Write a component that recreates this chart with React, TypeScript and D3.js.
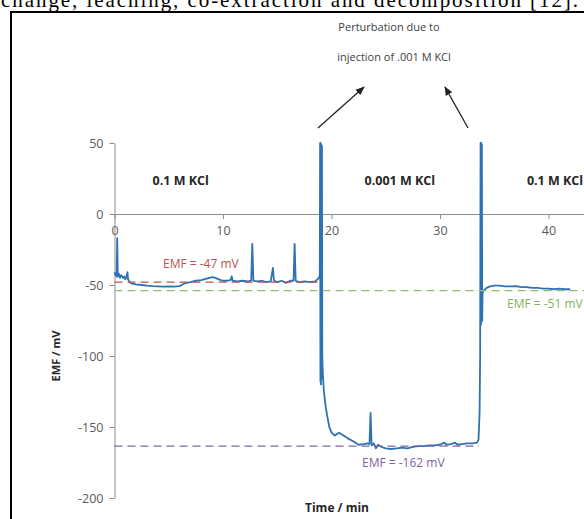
import React, { useEffect, useRef } from "react";
import { select, scaleLinear, line, axisLeft, axisBottom } from "d3";

// time (min) and EMF (mV)
const times = [
  0.0, 0.1, 0.2, 0.25, 0.3, 0.4, 0.5, 0.6, 0.7, 0.8, 0.9, 1.0, 1.1, 1.2, 1.25, 1.4, 1.6, 2.0, 2.5, 3.0,
  3.5, 4.0, 4.5, 5.0, 5.5, 6.0, 6.3, 6.6, 7.0, 7.5, 8.0, 8.5, 9.0, 9.3, 9.6, 10.0, 10.4, 10.7, 10.8, 10.9,
  11.3, 11.8, 12.3, 12.6, 12.7, 12.8, 13.2, 13.6, 14.0, 14.4, 14.6, 14.7, 15.0, 15.4, 15.8, 16.2, 16.5, 16.6, 16.7, 17.0,
  17.5, 18.0, 18.5, 18.85, 18.92, 18.95, 18.98, 19.0, 19.03, 19.06, 19.09, 19.12, 19.15, 19.2, 19.3, 19.45, 19.6, 19.8, 20.0, 20.3, 20.5,
  20.7, 21.0, 21.5, 22.0, 22.5, 23.0, 23.3, 23.5, 23.6, 23.7, 23.9, 24.1, 24.3, 24.6, 25.0, 25.5, 26.0, 26.5, 27.0, 27.5,
  28.0, 28.5, 29.0, 29.5, 30.0, 30.4, 30.6, 31.0, 31.4, 31.6, 32.0, 32.5, 33.0, 33.4, 33.55, 33.65, 33.7, 33.74, 33.77, 33.8,
  33.83, 33.86, 33.89, 33.92, 34.0, 34.3, 34.6, 35.0, 35.5, 36.0, 36.5, 37.0, 37.5, 38.0, 38.5, 39.0, 39.5, 40.0, 40.5, 41.0, 41.5, 42.0,
];
const emf = [
  -41, -43, -44, -17, -44, -42, -45, -43, -44, -45, -44, -46, -44, -41, -46, -48, -49, -49.5, -50, -50.5,
  -50.8, -51, -51.2, -51, -51.2, -50.8, -49.5, -48.5, -48, -47, -46.5, -45.5, -44.5, -45, -46, -47, -47, -46.5, -44, -47,
  -47.5, -47, -47.5, -47, -21, -47, -47.5, -47, -48, -47.5, -38, -47, -48, -47, -48.5, -47, -47, -21, -47, -48,
  -47.5, -48, -47.5, -45, -43, 50, -118, 50, -120, 49, -116, 48, -100, -112, -125, -135, -142, -150, -154, -156, -155,
  -154, -155.5, -158, -160, -162.5, -162, -161.5, -162, -140, -163, -161.5, -165, -162.5, -164, -165, -165.5, -165, -164.5, -165, -164,
  -163.5, -163.5, -163, -163, -162.5, -161, -162.5, -162, -161, -162.5, -162, -161.5, -161.5, -161, -159, -140, -100, 50, -78, 50,
  -76, 49, -75, -56, -54, -52, -51, -50.5, -50.5, -51, -51, -50.8, -51.5, -51.5, -52, -52, -52.5, -52.5, -53, -52.5, -53, -53,
];

const yTicks = [50, 0, -50, -100, -150, -200];
const xTicks = [0, 10, 20, 30, 40];

// reference levels
const refLevels = [-48, -54, -163.5];
const refStart = [0, 0, 0];
const refEnd = [19, 43.3, 33.6];
const refLabels = ["EMF = -47 mV", "EMF = -51 mV", "EMF = -162 mV"];
const refColors = ["#c0504d", "#8fbf6a", "#8064a2"];

const regionLabels = ["0.1 M KCl", "0.001 M KCl", "0.1 M KCl"];
const regionCenters = [6.1, 26.3, 40.6];

export default function App() {
  const xAxisRef = useRef<SVGGElement>(null);
  const yAxisRef = useRef<SVGGElement>(null);

  const x = scaleLinear().domain([0, 43.3]).range([114.5, 584.3]);
  const y = scaleLinear().domain([-200, 50]).range([498, 143]);

  const pts = times.map((t, i) => [t, emf[i]] as [number, number]);
  const path = line<[number, number]>()
    .x((d) => x(d[0]))
    .y((d) => y(d[1]))(pts);

  useEffect(() => {
    const xa = select(xAxisRef.current!);
    xa.selectAll("*").remove();
    xa.call(
      axisBottom(x).tickValues(xTicks).tickFormat((d) => String(d)).tickSize(5).tickSizeOuter(0).tickPadding(7)
    );
    const ya = select(yAxisRef.current!);
    ya.selectAll("*").remove();
    ya.call(
      axisLeft(y).tickValues(yTicks).tickFormat((d) => String(d)).tickSize(5).tickSizeOuter(0).tickPadding(6)
    );
    [xa, ya].forEach((a) => {
      a.selectAll("path, line").attr("stroke", "#8c8c8c");
      a.selectAll("text")
        .attr("fill", "#595959")
        .attr("font-size", 12.5)
        .attr("font-family", "Open Sans, sans-serif");
    });
  }, []);

  const font = "Open Sans, sans-serif";

  return (
    <svg
      width={584}
      height={519}
      style={{ position: "absolute", left: 0, top: 0, background: "#fff" }}
    >
      <text
        x={1}
        y={7}
        fontFamily="Liberation Serif, serif"
        fontSize={21}
        textLength={577}
        fill="#000"
      >
        change, leaching, co-extraction and decomposition [12].
      </text>
      <rect x={11} y={12} width={600} height={540} fill="none" stroke="#000" strokeWidth={2} />

      <text x={389} y={31} textAnchor="middle" fontFamily={font} fontSize={11} fill="#404040">
        Perturbation due to
      </text>
      <text x={394} y={61} textAnchor="middle" fontFamily={font} fontSize={11} fill="#404040">
        injection of .001 M KCl
      </text>
      <defs>
        <marker id="ah" viewBox="0 0 10 10" refX="9" refY="5" markerWidth="7" markerHeight="7" orient="auto">
          <path d="M0,1 L10,5 L0,9 z" fill="#222" />
        </marker>
      </defs>
      <line x1={318} y1={128} x2={364} y2={87} stroke="#222" strokeWidth={1.3} markerEnd="url(#ah)" />
      <line x1={468} y1={128} x2={445} y2={87} stroke="#222" strokeWidth={1.3} markerEnd="url(#ah)" />

      {regionLabels.map((l, i) => (
        <text
          key={i}
          x={x(regionCenters[i])}
          y={185}
          textAnchor="middle"
          fontFamily={font}
          fontWeight="bold"
          fontSize={12.5}
          fill="#262626"
        >
          {l}
        </text>
      ))}

      <g ref={xAxisRef} transform={`translate(0,${y(0)})`} />
      <g ref={yAxisRef} transform={`translate(${x(0)},0)`} />

      <path d={path ?? ""} fill="none" stroke="#2f72b4" strokeWidth={1.8} strokeLinejoin="round" />

      {refLevels.map((v, i) => (
        <line
          key={i}
          x1={x(refStart[i])}
          x2={x(refEnd[i])}
          y1={y(v)}
          y2={y(v)}
          stroke={refColors[i]}
          strokeWidth={1.3}
          strokeDasharray="8,5"
        />
      ))}
      <text x={163} y={268} fontFamily={font} fontSize={12} fill={refColors[0]}>
        {refLabels[0]}
      </text>
      <text x={507} y={308} fontFamily={font} fontSize={12} fill="#7fb55a">
        {refLabels[1]}
      </text>
      <text x={362} y={467} fontFamily={font} fontSize={12} fill={refColors[2]}>
        {refLabels[2]}
      </text>

      <text
        transform="translate(60,356) rotate(-90)"
        textAnchor="middle"
        fontFamily={font}
        fontWeight="bold"
        fontSize={11}
        fill="#262626"
      >
        EMF / mV
      </text>
      <text x={337} y={512} textAnchor="middle" fontFamily={font} fontWeight="bold" fontSize={12} fill="#262626">
        Time / min
      </text>
    </svg>
  );
}
